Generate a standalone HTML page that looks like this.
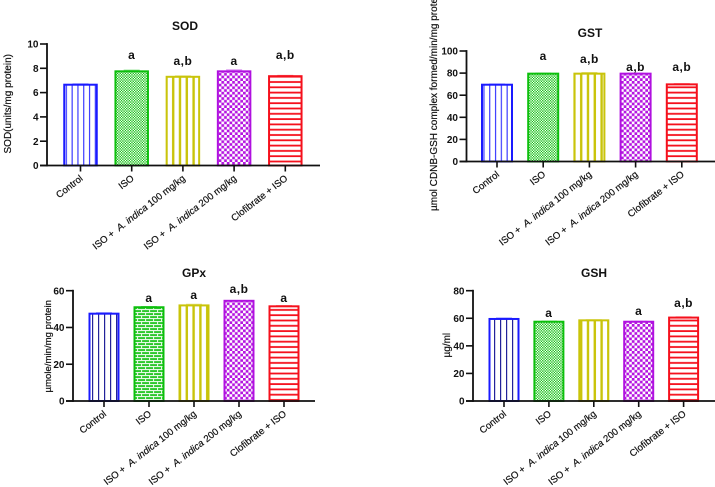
<!DOCTYPE html>
<html lang="en">
<head>
<meta charset="utf-8">
<title>SOD, GST, GPx and GSH bar charts</title>
<style>
html,body{margin:0;padding:0;background:#fff;width:715px;height:487px;overflow:hidden}
svg{display:block;font-family:"Liberation Sans",Arial,sans-serif;filter:blur(0.35px)}
</style>
</head>
<body>
<svg id="figure" xmlns="http://www.w3.org/2000/svg" width="715" height="487" viewBox="0 0 715 487">
<defs>
<pattern id="p-blue" width="5.8" height="6" patternUnits="userSpaceOnUse"><rect width="5.8" height="6" fill="#fff"/><rect x="2" width="1.1" height="6" fill="#2a2aff"/></pattern>
<pattern id="p-blue-dark" width="6" height="6" patternUnits="userSpaceOnUse"><rect width="6" height="6" fill="#fff"/><rect x="2" width="1.2" height="6" fill="#22229a"/></pattern>
<pattern id="p-green" width="2.6" height="2.6" patternUnits="userSpaceOnUse"><rect width="2.6" height="2.6" fill="#fff"/><rect width="1.3" height="1.3" fill="#12c012"/><rect x="1.3" y="1.3" width="1.3" height="1.3" fill="#12c012"/></pattern>
<pattern id="p-brick" width="8" height="6" patternUnits="userSpaceOnUse"><rect width="8" height="6" fill="#2cc82c"/><rect y="0" width="8" height="1.1" fill="#e4f8e4"/><rect y="3" width="8" height="1.1" fill="#e4f8e4"/><rect x="1" y="0" width="1.1" height="3" fill="#e4f8e4"/><rect x="5" y="3" width="1.1" height="3" fill="#e4f8e4"/></pattern>
<pattern id="p-yellow" width="6.8" height="6" patternUnits="userSpaceOnUse"><rect width="6.8" height="6" fill="#fff"/><rect x="2" width="2.4" height="6" fill="#c9c40a"/></pattern>
<pattern id="p-purple" width="5.4" height="5.4" patternUnits="userSpaceOnUse"><rect width="5.4" height="5.4" fill="#fff"/><rect width="2.7" height="2.7" fill="#b414e0"/><rect x="2.7" y="2.7" width="2.7" height="2.7" fill="#b414e0"/></pattern>
<pattern id="p-red" width="6" height="5.3" patternUnits="userSpaceOnUse"><rect width="6" height="5.3" fill="#fff"/><rect y="1.6" width="6" height="1.8" fill="#f5101c"/></pattern>
</defs>
</svg>
<script>
var categories = ["Control", "ISO", "ISO +  A. indica 100 mg/kg", "ISO +  A. indica 200 mg/kg", "Clofibrate + ISO"];

var sodValues = [6.65, 7.75, 7.3, 7.75, 7.35];
var sodErrors = [0.07, 0.1, 0.08, 0.12, 0.07];
var sodTicks = [0, 2, 4, 6, 8, 10];
var sodMarks = ["", "a", "a,b", "a", "a,b"];
var sodMarkRise = [0, 1.02, 0.97, 0.52, 1.42];

var gstValues = [69.5, 79.5, 79.5, 79.5, 69.8];
var gstErrors = [0.6, 0.5, 1, 0.5, 0.7];
var gstTicks = [0, 20, 40, 60, 80, 100];
var gstMarks = ["", "a", "a,b", "a,b", "a,b"];
var gstMarkRise = [0, 12.4, 9.6, 2.4, 12.1];

var gpxValues = [47.5, 51, 52, 54.5, 51.5];
var gpxErrors = [0.5, 0.4, 0.6, 0.2, 0.4];
var gpxTicks = [0, 20, 40, 60];
var gpxMarks = ["", "a", "a", "a,b", "a"];
var gpxMarkRise = [0, 2.9, 3.5, 4.3, 2.4];

var gshValues = [59.5, 57.5, 58.5, 57.5, 60.5];
var gshErrors = [0.7, 0.4, 0.4, 0.3, 0.5];
var gshTicks = [0, 20, 40, 60, 80];
var gshMarks = ["", "a", "", "a", "a,b"];
var gshMarkRise = [0, 3.4, 0, 4.9, 7.7];

var barColors = ["#1a1aff", "#0cbf0c", "#c9c40a", "#b010e0", "#f5101c"];

var charts = [
  {key:"sod", title:"SOD", yTitle:"SOD(units/mg protein)", values:sodValues, errors:sodErrors, ticks:sodTicks, marks:sodMarks, rise:sodMarkRise,
   axisX:47, top:44, bottom:165.5, first:80.5, step:51.2, barW:32.5, end:320, titleX:185, titleY:30, yTitleX:11, yTitleY:153.5, yTitleSize:10,
   fills:["p-blue","p-green","p-yellow","p-purple","p-red"]},
  {key:"gst", title:"GST", yTitle:"µmol CDNB-GSH complex formed/min/mg protein", values:gstValues, errors:gstErrors, ticks:gstTicks, marks:gstMarks, rise:gstMarkRise,
   axisX:466.5, top:51, bottom:161.5, first:497, step:46.2, barW:30, end:715, titleX:590, titleY:37, yTitleX:437, yTitleY:211, yTitleSize:10,
   fills:["p-blue","p-green","p-yellow","p-purple","p-red"]},
  {key:"gpx", title:"GPx", yTitle:"µmole/min/mg protein", values:gpxValues, errors:gpxErrors, ticks:gpxTicks, marks:gpxMarks, rise:gpxMarkRise,
   axisX:73, top:290.7, bottom:401, first:104, step:45, barW:29, end:315, titleX:194, titleY:277, yTitleX:51, yTitleY:392.5, yTitleSize:9.6,
   fills:["p-blue-dark","p-brick","p-yellow","p-purple","p-red"]},
  {key:"gsh", title:"GSH", yTitle:"µg/ml", values:gshValues, errors:gshErrors, ticks:gshTicks, marks:gshMarks, rise:gshMarkRise,
   axisX:473, top:290.7, bottom:401, first:504, step:44.9, barW:29, end:715, titleX:594, titleY:277, yTitleX:450, yTitleY:357.5, yTitleSize:10,
   fills:["p-blue-dark","p-green","p-yellow","p-purple","p-red"]}
];

var svgNS = "http://www.w3.org/2000/svg";
var figure = document.getElementById("figure");

function make(parent, tag, attrs, text) {
  var el = document.createElementNS(svgNS, tag);
  for (var k in attrs) el.setAttribute(k, attrs[k]);
  if (text !== undefined) el.textContent = text;
  parent.appendChild(el);
  return el;
}

charts.forEach(function (c) {
  var maxTick = c.ticks[c.ticks.length - 1];
  function yScale(v) { return c.bottom - (v / maxTick) * (c.bottom - c.top); }
  function xScale(i) { return c.first + i * c.step; }

  var group = make(figure, "g", {});
  
  

  var title = make(group, "text", {x:c.titleX, y:c.titleY, "text-anchor":"middle", "font-size":12, "font-weight":"bold", fill:"#111"}, c.title);
  
  

  var yTitle = make(group, "text", {x:c.yTitleX, y:c.yTitleY, "font-size":c.yTitleSize, fill:"#111", stroke:"#111", "stroke-width":0.2, "transform":"rotate(-90 " + c.yTitleX + " " + c.yTitleY + ")"}, c.yTitle);
  
  

  c.values.forEach(function (v, i) {
    var cx = xScale(i);
    var barTop = yScale(v);
    var errTop = yScale(v + c.errors[i]);
    var err = make(group, "path", {d:"M" + (cx - 8) + " " + errTop + "H" + (cx + 8) + "M" + cx + " " + errTop + "V" + barTop, stroke:barColors[i], "stroke-width":1, "stroke-opacity":0.5, fill:"none"});
    
    

    var bar = make(group, "rect", {x:cx - c.barW / 2, y:barTop, width:c.barW, height:c.bottom - barTop, fill:"url(#" + c.fills[i] + ")", stroke:barColors[i], "stroke-width":2});
    
    

    if (c.marks[i]) {
      var mark = make(group, "text", {x:cx, y:yScale(v + c.rise[i]), "text-anchor":"middle", "font-size":12, "font-weight":"bold", "letter-spacing":"0.5", fill:"#111"}, c.marks[i]);
      
      
    }

    var tick = make(group, "line", {x1:cx, x2:cx, y1:c.bottom, y2:c.bottom + 6, stroke:"#111", "stroke-width":1.6});
    
    

    var lx = cx + 3, ly = c.bottom + 14;
    var label = make(group, "text", {x:lx, y:ly, "text-anchor":"end", "font-size":9.6, fill:"#111", stroke:"#111", "stroke-width":0.2, "transform":"rotate(-38 " + lx + " " + ly + ")"});
    
    
    var parts = categories[i].match(/^(.*?)(A\. indica)(.*)$/);
    if (parts) {
      make(label, "tspan", {}, parts[1].replace("  ", "\u00a0\u00a0"));
      make(label, "tspan", {"font-style":"italic"}, parts[2]);
      make(label, "tspan", {}, parts[3]);
    } else {
      label.textContent = categories[i];
    }
  });

  var xAxis = make(group, "line", {x1:c.axisX - 7, x2:c.end, y1:c.bottom, y2:c.bottom, stroke:"#111", "stroke-width":1.8});
  
  

  var yAxis = make(group, "line", {x1:c.axisX, x2:c.axisX, y1:c.top - 0.9, y2:c.bottom + 0.9, stroke:"#111", "stroke-width":1.8});
  
  

  c.ticks.forEach(function (t) {
    var ty = yScale(t);
    var tl = make(group, "line", {x1:c.axisX - 7, x2:c.axisX, y1:ty, y2:ty, stroke:"#111", "stroke-width":1.6});
    
    
    var tt = make(group, "text", {x:c.axisX - 8.5, y:ty + 3.6, "text-anchor":"end", "font-size":10, "font-weight":"bold", fill:"#111"}, String(t));
    
    
  });
});
</script>
</body>
</html>
